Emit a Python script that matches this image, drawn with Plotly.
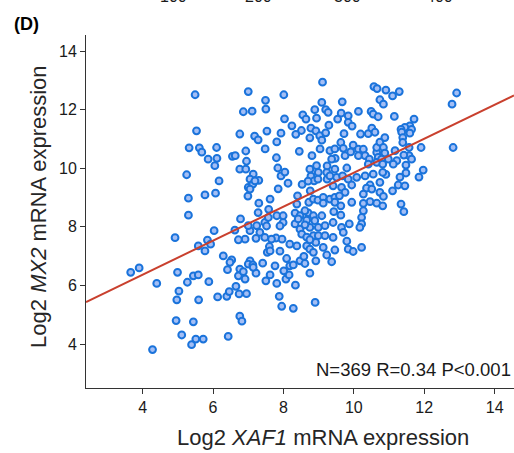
import plotly.graph_objects as go

# ---- data, x = Log2 XAF1, y = Log2 MX2 ----
band_a = [(3.66,6.45),(3.90,6.60),(4.40,6.07),(4.28,3.81),(4.92,7.63),(5.30,8.40),(5.30,8.98),(4.99,6.45),
          (5.03,5.81),(4.97,5.51),(4.95,4.80),(5.11,4.31),(5.27,6.11),(5.44,6.33),(5.58,6.36),(5.58,7.35),
          (5.59,5.51),(5.44,4.76),(5.39,3.98),(5.51,4.17),(5.49,12.51),(5.53,11.28),(5.32,10.70),(5.61,10.70),
          (5.25,9.78)]
band_b = [(5.68,10.55),(5.72,4.17),(5.77,9.09),(6.07,9.15),(6.10,10.71),(5.86,10.31),(6.11,10.34),(6.05,10.09),
          (6.17,9.57),(5.84,7.55),(5.77,7.18),(5.93,7.41),(6.03,7.87),(5.88,6.13),(6.13,5.61),(6.39,5.63),
          (6.46,5.79),(6.43,4.26),(6.29,7.01),(6.41,6.54)]
band_c = [(6.62,7.89),(6.74,5.71),(6.95,5.72),(6.65,5.97),(6.76,4.95),(6.82,4.78),(6.53,6.87),(6.48,6.79),
          (6.76,6.56),(6.72,6.33),(6.91,6.22),(6.86,6.47),(7.05,6.84),(7.00,6.73),(7.13,6.70),(7.22,6.42),
          (7.14,6.62),(6.78,8.27),(7.00,12.62),(6.86,11.93),(7.11,11.95),(6.76,11.17),(7.18,11.10),(7.28,10.97),
          (6.93,10.59),(6.55,10.41),(6.63,10.43),(6.95,10.24),(6.76,9.97),(6.93,9.97),(7.14,9.80),(7.05,9.63),
          (7.30,9.59),(7.00,9.35),(7.13,9.46),(6.99,9.05),(7.30,8.81),(7.28,8.49),(6.91,7.58),(6.72,7.56),
          (7.22,7.61),(7.05,7.87),(7.24,8.04),(7.33,7.81),(7.00,8.04),(7.19,9.57),(7.05,9.29)]
band_d = [(7.49,12.32),(7.50,12.02),(8.01,12.51),(8.03,11.69),(7.53,11.27),(7.93,11.20),(7.81,10.90),(7.48,10.66),
          (7.80,10.36),(7.84,10.01),(7.93,9.74),(8.04,9.87),(8.13,9.49),(7.85,9.30),(7.62,8.95),(7.58,8.60),
          (7.47,8.15),(7.99,8.15),(7.81,8.38),(7.57,8.32),(7.90,8.03),(7.52,8.03),(7.41,6.76),(7.50,6.16),
          (7.62,6.36),(7.81,6.07),(7.54,7.13),(7.60,7.33),(7.76,6.67),(7.90,7.17),(7.79,7.62),(8.09,6.92),
          (8.07,6.22),(8.16,6.36),(7.88,5.63),(7.95,5.29),(8.01,6.50),(8.18,7.41),(7.66,7.58),(7.47,7.64),
          (7.96,7.58),(7.62,7.18),(7.99,8.38)]
band_e = [(8.24,11.45),(8.51,11.29),(8.55,11.82),(8.64,11.68),(8.35,11.16),(8.75,11.04),(8.89,12.00),(8.94,11.71),
          (8.78,11.37),(8.92,11.28),(9.03,11.11),(8.45,10.58),(8.81,10.43),(8.53,9.45),(8.76,9.23),(8.85,9.91),
          (8.99,9.86),(8.75,9.97),(8.78,9.73),(8.94,10.09),(8.87,9.57),(8.98,9.63),(8.70,9.56),(8.40,9.06),
          (8.72,8.84),(8.85,8.95),(8.98,8.91),(8.38,8.78),(8.33,8.47),(8.47,8.38),(8.70,8.48),(8.61,8.55),
          (8.85,8.38),(8.66,8.23),(8.89,8.21),(8.33,8.10),(8.47,7.92),(8.75,7.98),(8.99,7.98),(8.61,8.07),
          (8.52,7.75),(8.85,7.70),(8.99,7.70),(8.66,7.65),(8.38,7.35),(8.66,7.35),(8.75,7.24),(8.92,7.47),
          (8.75,7.56),(8.18,6.67),(8.28,6.70),(8.34,6.01),(8.28,5.22),(8.47,6.84),(8.58,6.99),(8.61,6.75),
          (8.92,6.84),(8.75,6.42),(8.90,5.42),(8.85,7.13),(8.42,8.27),(9.04,10.66),(9.09,10.96)]
band_f = [(9.11,12.94),(9.09,12.25),(9.20,12.00),(9.27,11.91),(9.29,11.47),(9.20,11.21),(9.54,11.68),(9.67,12.27),
          (9.64,11.88),(9.84,11.79),(9.84,11.57),(9.72,11.18),(9.32,10.60),(9.47,10.34),(9.63,10.88),(9.70,10.68),
          (9.46,10.66),(9.37,10.31),(9.75,10.43),(9.23,9.86),(9.24,9.63),(9.51,9.69),(9.46,9.97),(9.32,9.74),
          (9.68,9.74),(9.80,10.01),(9.84,9.63),(9.41,9.40),(9.65,9.35),(9.75,9.18),(9.13,9.01),(9.32,8.95),
          (9.46,9.01),(9.59,9.06),(9.13,8.81),(9.46,8.84),(9.63,8.72),(9.43,8.52),(9.63,8.40),(9.09,8.38),
          (9.18,8.04),(9.41,8.15),(9.65,7.98),(9.87,8.10),(9.18,7.70),(9.41,7.64),(9.70,7.81),(9.80,7.51),
          (9.13,7.30),(9.46,7.21),(9.84,7.24),(9.23,7.04),(9.37,6.81),(9.24,10.08)]
band_g = [(10.57,12.79),(10.66,12.72),(10.13,11.94),(10.49,11.94),(10.55,11.85),(10.69,11.76),(9.95,11.44),(10.19,11.17),
          (10.41,11.18),(10.51,11.37),(10.60,11.23),(9.98,10.79),(10.13,10.65),(10.27,10.65),(9.91,10.56),(10.13,10.43),
          (10.32,10.43),(10.44,10.31),(10.41,10.14),(10.65,10.54),(10.69,10.37),(10.65,10.71),(10.74,10.89),(10.65,10.20),
          (10.32,9.74),(10.55,9.80),(10.08,9.69),(9.94,9.43),(10.46,9.43),(10.36,9.32),(10.51,9.29),(10.27,9.12),
          (9.94,8.84),(10.46,8.86),(10.65,8.81),(10.27,8.80),(10.27,8.55),(10.22,8.32),(10.22,8.10),(10.17,7.98),
          (10.22,7.30),(9.98,7.16)]
band_h = [(10.74,12.34),(10.84,12.19),(10.91,12.67),(11.10,12.47),(11.29,12.62),(12.92,12.57),(12.79,12.19),(11.15,11.77),
          (11.71,11.68),(11.59,11.45),(11.45,11.40),(11.34,11.33),(11.64,11.33),(11.36,11.23),(11.59,11.20),(11.39,11.05),
          (11.39,10.88),(10.88,11.05),(10.84,10.71),(10.88,10.52),(10.79,10.31),(10.98,10.31),(11.17,10.60),(11.22,10.26),
          (11.57,10.71),(11.57,10.43),(11.42,10.45),(11.91,10.71),(12.82,10.71),(10.82,10.14),(11.12,10.14),(11.48,10.11),
          (11.48,9.84),(11.31,9.70),(11.97,9.94),(11.85,9.70),(10.91,9.79),(10.82,9.86),(10.74,9.52),(11.26,9.43),
          (11.45,9.40),(11.10,9.23),(10.74,9.18),(10.84,9.04),(11.34,8.78),(11.42,8.52),(10.82,8.72),(11.64,10.31)]

fit_slope = 0.58
fit_intercept = 4.05
x_range = [2.39, 14.55]
y_range = [2.50, 14.55]
x_ticks = [4, 6, 8, 10, 12, 14]
y_ticks = [4, 6, 8, 10, 12, 14]
stats_text = "N=369 R=0.34 P<0.001"
top_cut_labels = ["100", "200", "300", "400"]

points = band_a + band_b + band_c + band_d + band_e + band_f + band_g + band_h
xs = [p[0] for p in points]
ys = [p[1] for p in points]

FONT = "Arial, 'Liberation Sans', sans-serif"

fig = go.Figure()
fig.add_trace(go.Scatter(
    x=xs, y=ys, mode="markers",
    marker=dict(size=6.8, color="#A3BEF5", line=dict(color="#1A73DB", width=2)),
    showlegend=False, hoverinfo="skip"))
fig.add_trace(go.Scatter(
    x=x_range, y=[fit_intercept + fit_slope * v for v in x_range], mode="lines",
    line=dict(color="#C9402E", width=2), showlegend=False, hoverinfo="skip"))

axis_common = dict(showline=True, linecolor="#333333", linewidth=1, ticks="outside", ticklen=5,
                   tickwidth=1, tickcolor="#333333", showgrid=False, zeroline=False, automargin=False,
                   tickfont=dict(family=FONT, size=16, color="#1a1a1a"))
fig.update_xaxes(range=x_range, tickvals=x_ticks, **axis_common)
fig.update_yaxes(range=y_range, tickvals=y_ticks, **axis_common)

annotations = [
    dict(text="Log2 <i>XAF1</i> mRNA expression", xref="paper", yref="paper", x=0.5537, y=-0.139,
         xanchor="center", yanchor="middle", showarrow=False, font=dict(family=FONT, size=22, color="#262626")),
    dict(text="Log2 <i>MX2</i> mRNA expression", xref="paper", yref="paper", x=-0.1100, y=0.5156,
         xanchor="center", yanchor="middle", textangle=-90, showarrow=False,
         font=dict(family=FONT, size=22, color="#262626")),
    dict(text=stats_text, xref="paper", yref="paper", x=0.9977, y=0.051, xanchor="right", yanchor="middle",
         showarrow=False, font=dict(family=FONT, size=18.5, color="#1a1a1a")),
    dict(text="<b>(D)</b>", xref="paper", yref="paper", x=-0.140, y=1.031, xanchor="center", yanchor="middle",
         showarrow=False, font=dict(family=FONT, size=18, color="#000000")),
]
for lab, xp in zip(top_cut_labels, [0.2033, 0.4019, 0.6121, 0.8271]):
    annotations.append(dict(text=lab, xref="paper", yref="paper", x=xp, y=1.0800, xanchor="center",
                            yanchor="bottom", showarrow=False, font=dict(family=FONT, size=16, color="#1a1a1a")))

fig.update_layout(width=514, height=453, margin=dict(l=86, r=0, t=35, b=65, autoexpand=False),
                  paper_bgcolor="white", plot_bgcolor="white", annotations=annotations)
fig.write_html("out.html", config={"displayModeBar": False, "staticPlot": True},
               post_script="document.body.style.margin='0';document.body.style.padding='0';"
                           "document.body.style.overflow='hidden';")
